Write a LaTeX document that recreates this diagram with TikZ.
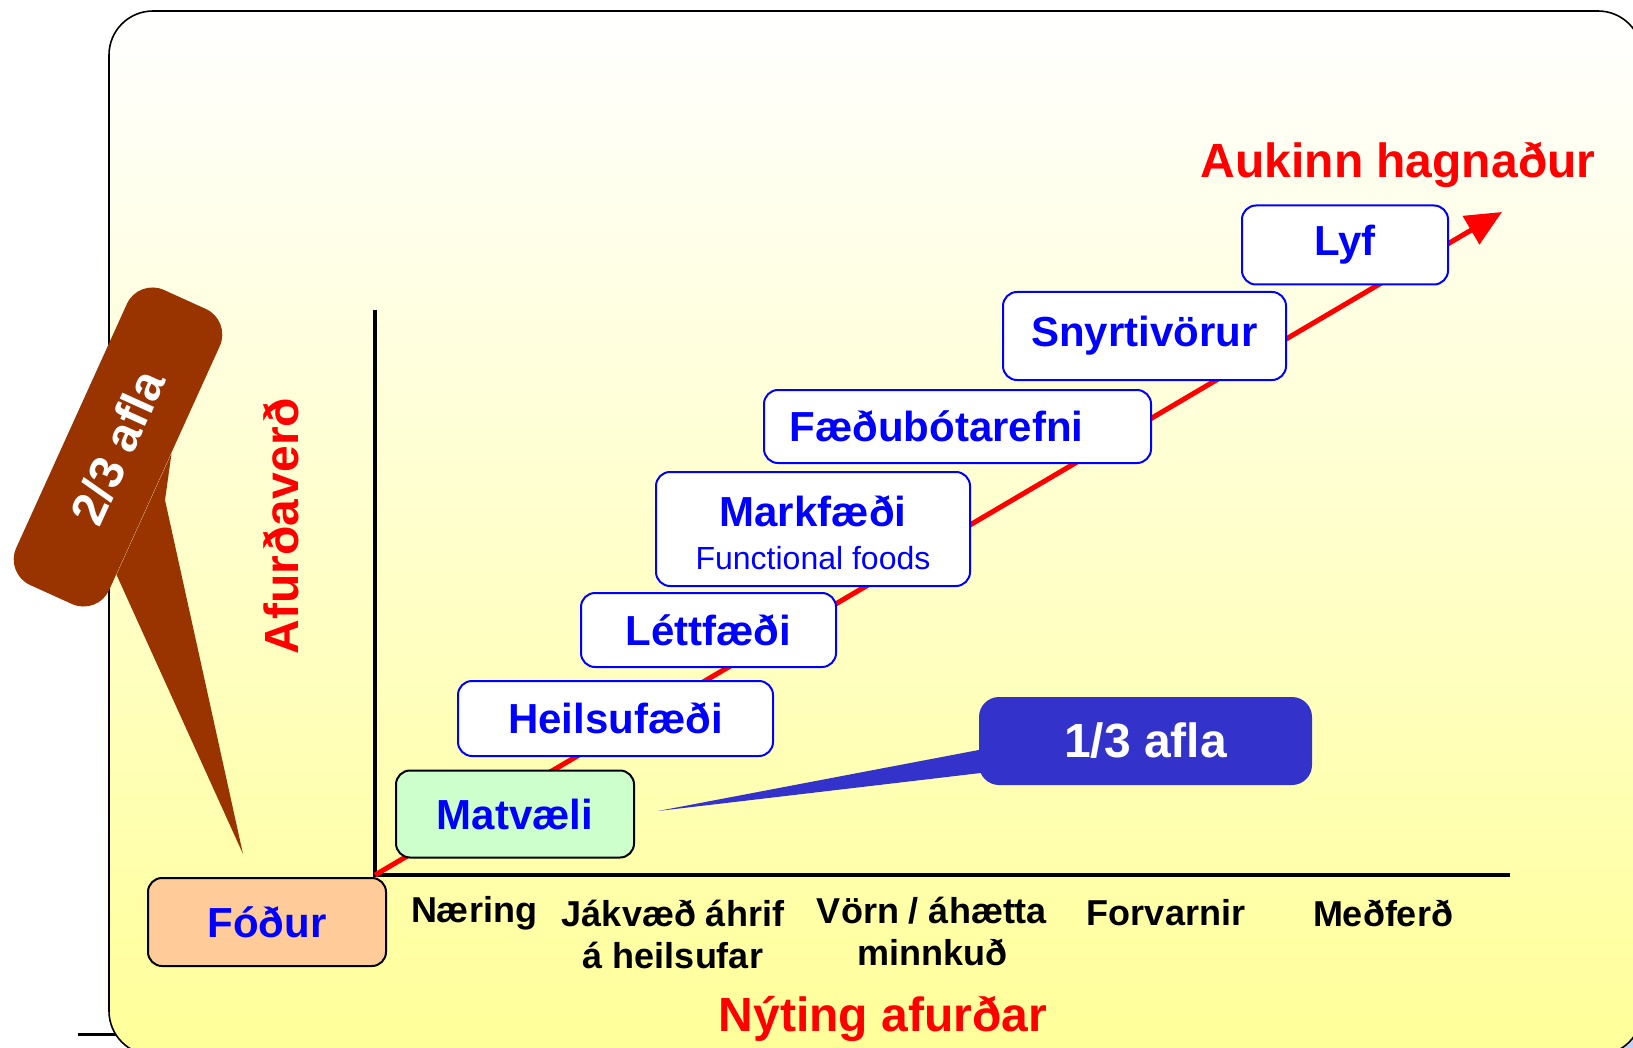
\documentclass[tikz,border=0pt]{standalone}
\usepackage{fontspec}
\setmainfont{Liberation Sans}
\usetikzlibrary{arrows.meta,calc}

\definecolor{boxblue}{HTML}{0000FF}
\definecolor{peach}{HTML}{FFCC99}
\definecolor{mint}{HTML}{CCFFCC}
\definecolor{calloutbrown}{HTML}{993300}
\definecolor{calloutblue}{HTML}{3333CC}
\definecolor{paleyellow}{HTML}{FFFF99}
\definecolor{lavender}{HTML}{C8D0F0}

\tikzset{
	stage/.style={draw=boxblue, line width=1pt, fill=white, rounded corners=7pt, text=boxblue, font=\fontsize{21}{25}\selectfont\bfseries, inner sep=0pt},
	axislabel/.style={font=\fontsize{18}{21}\selectfont\bfseries, align=center},
	redlabel/.style={text=red, font=\fontsize{24}{28}\selectfont\bfseries},
	callout/.style={text=white, font=\fontsize{24}{28}\selectfont\bfseries, inner sep=0pt},
}

\begin{document}
\begin{tikzpicture}[x=0.5pt, y=-0.5pt]
	\useasboundingbox (0,0) rectangle (1633,1048);
	% frame
	\fill[lavender, rounded corners=22pt] (117,19) rectangle (1650,1063);
	\draw[line width=1.5pt] (78,1034) -- (120,1034);
	\shadedraw[top color=white, bottom color=paleyellow, rounded corners=22pt, line width=0.8pt] (109,11) rectangle (1642,1055);
	% axes and arrow
	\coordinate (o) at (375,875);
	\coordinate (gain) at (1502,212);
	\draw[line width=2.2pt] (375,310) -- (o) -- (1510,875);
	\draw[red, line width=2.5pt, -{Triangle[length=18pt,width=16pt]}] (o) -- (gain);
	% stages
	\node[stage, fill=peach, draw=black, minimum width=119pt, minimum height=44pt] (fodur) at (267,922) {Fóður};
	\node[stage, fill=mint, draw=black, minimum width=119pt, minimum height=43.5pt] (matvaeli) at (515,814) {Matvæli};
	\node[stage, minimum width=157.5pt, minimum height=37.5pt] (heilsu) at (615.5,718.5) {Heilsufæði};
	\node[stage, minimum width=127.5pt, minimum height=37pt] (lett) at (708.5,630) {Léttfæði};
	\node[stage, minimum width=157pt, minimum height=57pt, align=center] (mark) at (813,529) {\rule{0pt}{19pt}Markfæði\\[-3.6pt]{\fontsize{16}{19}\selectfont\mdseries Functional foods}};
	\node[stage, minimum width=193.5pt, minimum height=36.5pt] (baeti) at (957.5,426.5) {Fæðubótarefni\hspace*{21pt}};
	\node[stage, minimum width=141.5pt, minimum height=44pt] (snyrti) at (1144.5,336) {Snyrtivörur};
	\node[stage, minimum width=103pt, minimum height=39.5pt] (lyf) at (1345,245) {Lyf};
	% labels
	\node[redlabel] (hagnadur) at (1398,165) {Aukinn hagnaður};
	\node[redlabel, rotate=90] (verd) at (281,526) {Afurðaverð};
	\node[redlabel] (nyting) at (883,1019) {Nýting afurðar};
	\node[axislabel] (naering) at (474,913) {Næring};
	\node[axislabel] (jakvaed) at (673,934) {Jákvæð áhrif\\á heilsufar};
	\node[axislabel] (vorn) at (932,931) {Vörn / áhætta\\minnkuð};
	\node[axislabel] (forvarnir) at (1166,913) {Forvarnir};
	\node[axislabel] (medferd) at (1383,913) {Meðferð};
	% callouts
	\node[callout, fill=calloutbrown, rounded corners=14pt, rotate=65.6, minimum width=162pt, minimum height=51pt] (twothirds) at (118,447) {2/3 afla};
	\coordinate (twothirds tip) at (243,854);
	\fill[calloutbrown] ($(twothirds.south west)!0.14!(twothirds.south east)$) -- (twothirds tip) -- (165,500) -- ($(twothirds.south west)!0.55!(twothirds.south east)$) -- cycle;
	\node[callout, fill=calloutblue, rounded corners=10pt, minimum width=166.5pt, minimum height=44pt] (onethird) at (1145.5,741) {1/3 afla};
	\coordinate (onethird tip) at (658,811);
	\fill[calloutblue] ($(onethird.south west)!0.15!(onethird.north west)+(10,0)$) -- (onethird tip) -- ($(onethird.south west)!0.42!(onethird.north west)+(10,0)$) -- cycle;
\end{tikzpicture}
\end{document}
